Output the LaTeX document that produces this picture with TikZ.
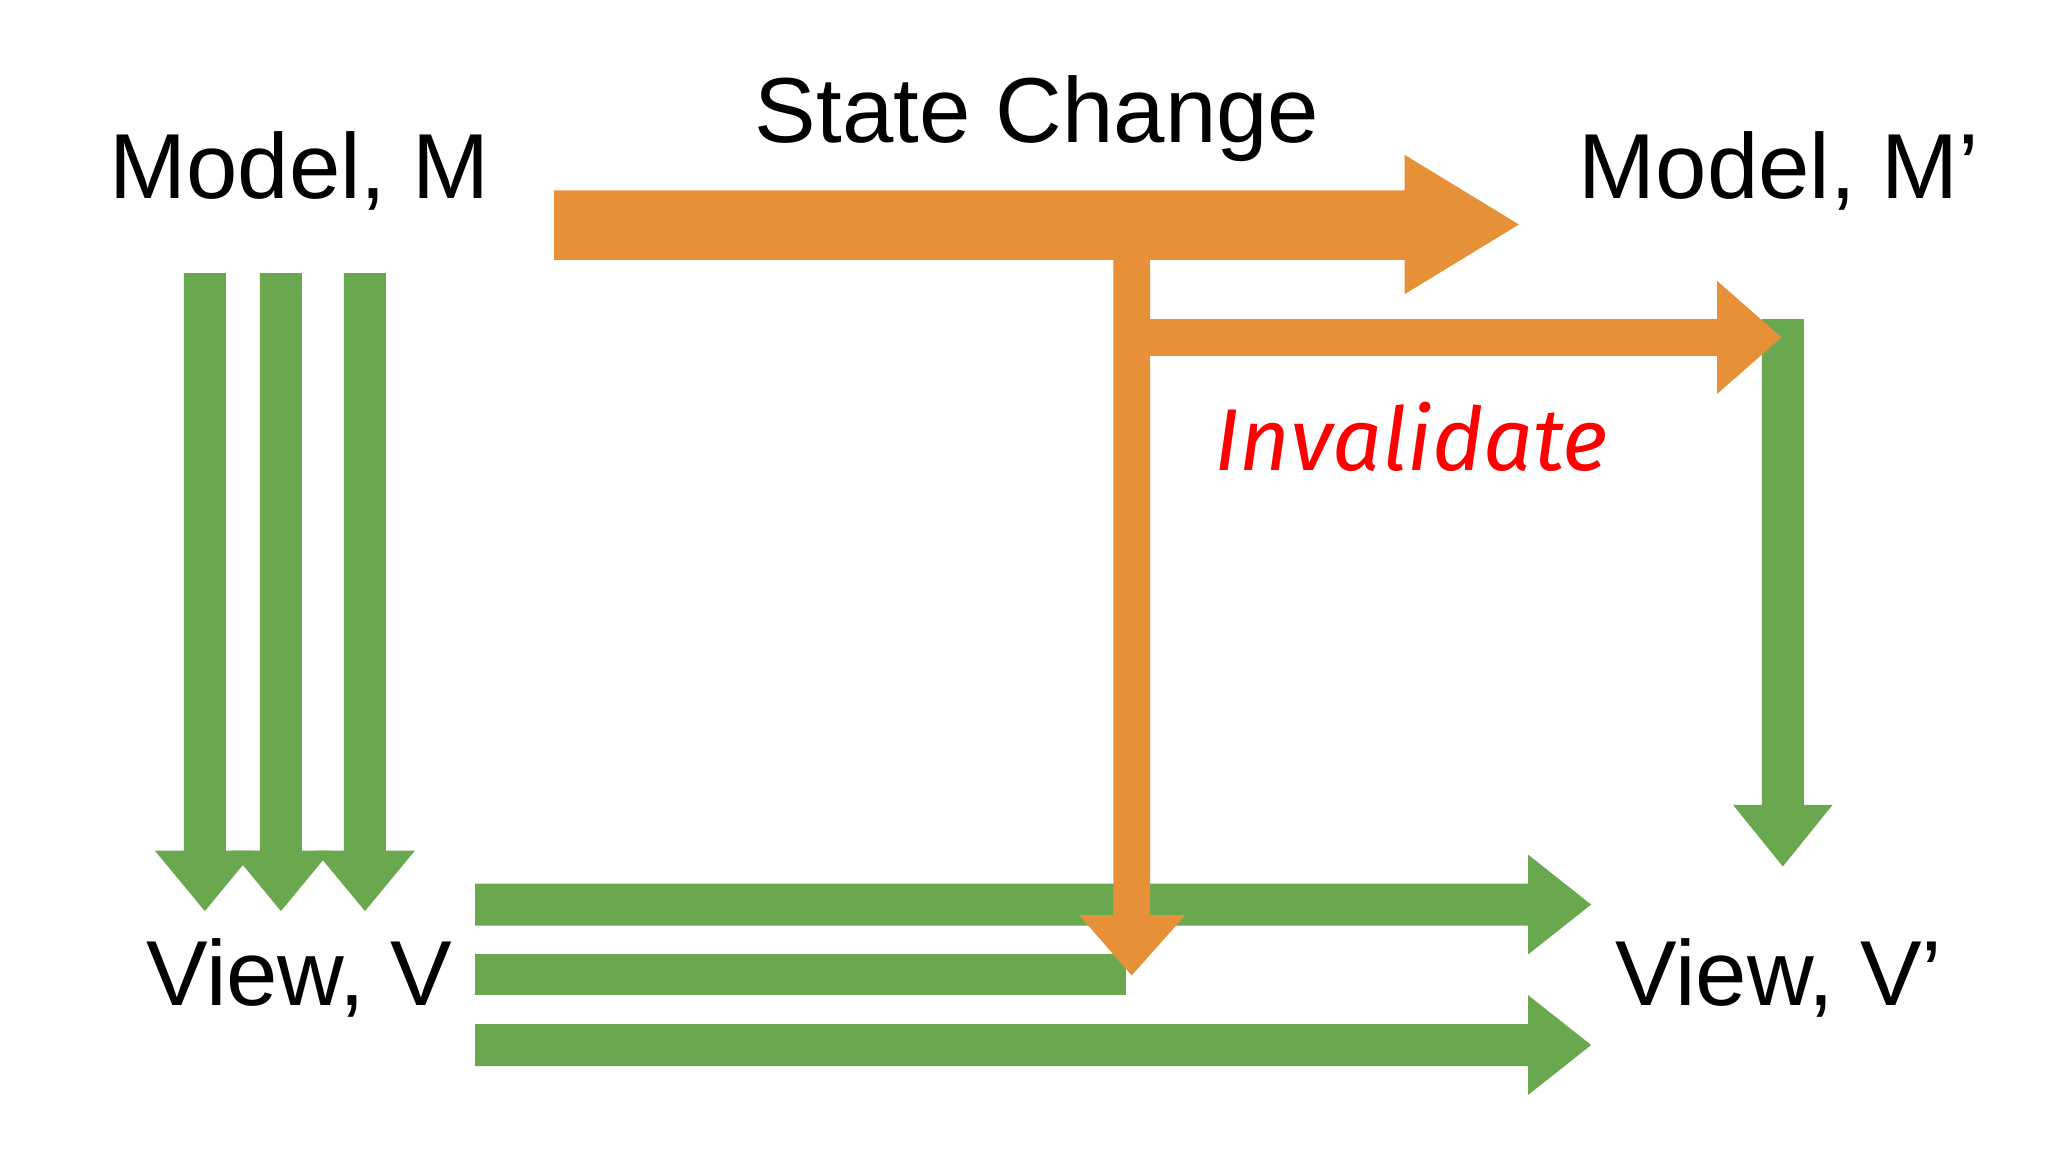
\documentclass[tikz,border=0pt]{standalone}
\usepackage{fontspec}
\setmainfont{Liberation Sans}
\newfontfamily\handfont{Fira Sans}
\definecolor{org}{RGB}{230,145,56}
\definecolor{grn}{RGB}{106,168,79}
\begin{document}
\begin{tikzpicture}[x=0.01cm,y=-0.01cm,
  lbl/.style={font=\fontsize{20}{24}\selectfont},
  garrow/.style={fill=grn},
  oarrow/.style={fill=org}]
\useasboundingbox (0,0) rectangle (1560,878);
% labels
\node[lbl] (m) at (228,130) {Model, M};
\node[lbl] (sc) at (790,90) {State Change};
\node[lbl] (mp) at (1355,130) {Model, M’};
\node[lbl] (v) at (228,745) {View, V};
\node[lbl] (vp) at (1355,745) {View, V’};
\node[font=\handfont\itshape\fontsize{19}{22}\selectfont, text=red] (inv) at (1075,333) {Invalidate};
% left green down arrows
\foreach \c in {156,214,278}{
  \fill[grn] (\c-16,208) -- (\c+16,208) -- (\c+16,648) -- (\c+38,648) -- (\c,694) -- (\c-38,648) -- (\c-16,648) -- cycle;
}
% right green down arrow
\fill[grn] (1342,243) -- (1374,243) -- (1374,613) -- (1396,613) -- (1358,660) -- (1320,613) -- (1342,613) -- cycle;
% green horizontals
\fill[grn] (362,673) -- (1164,673) -- (1164,651) -- (1212,689) -- (1164,727) -- (1164,705) -- (362,705) -- cycle;
\fill[grn] (362,727) rectangle (858,758);
\fill[grn] (362,780) -- (1164,780) -- (1164,758) -- (1212,796) -- (1164,834) -- (1164,812) -- (362,812) -- cycle;
% orange
\fill[org] (422,145) -- (1070,145) -- (1070,118) -- (1157,171) -- (1070,224) -- (1070,198) -- (422,198) -- cycle;
\fill[org] (848,196) -- (876,196) -- (876,697) -- (903,697) -- (862,743) -- (822,697) -- (848,697) -- cycle;
\fill[org] (876,243) -- (1308,243) -- (1308,214) -- (1357,257) -- (1308,300) -- (1308,271) -- (876,271) -- cycle;
\end{tikzpicture}
\end{document}
